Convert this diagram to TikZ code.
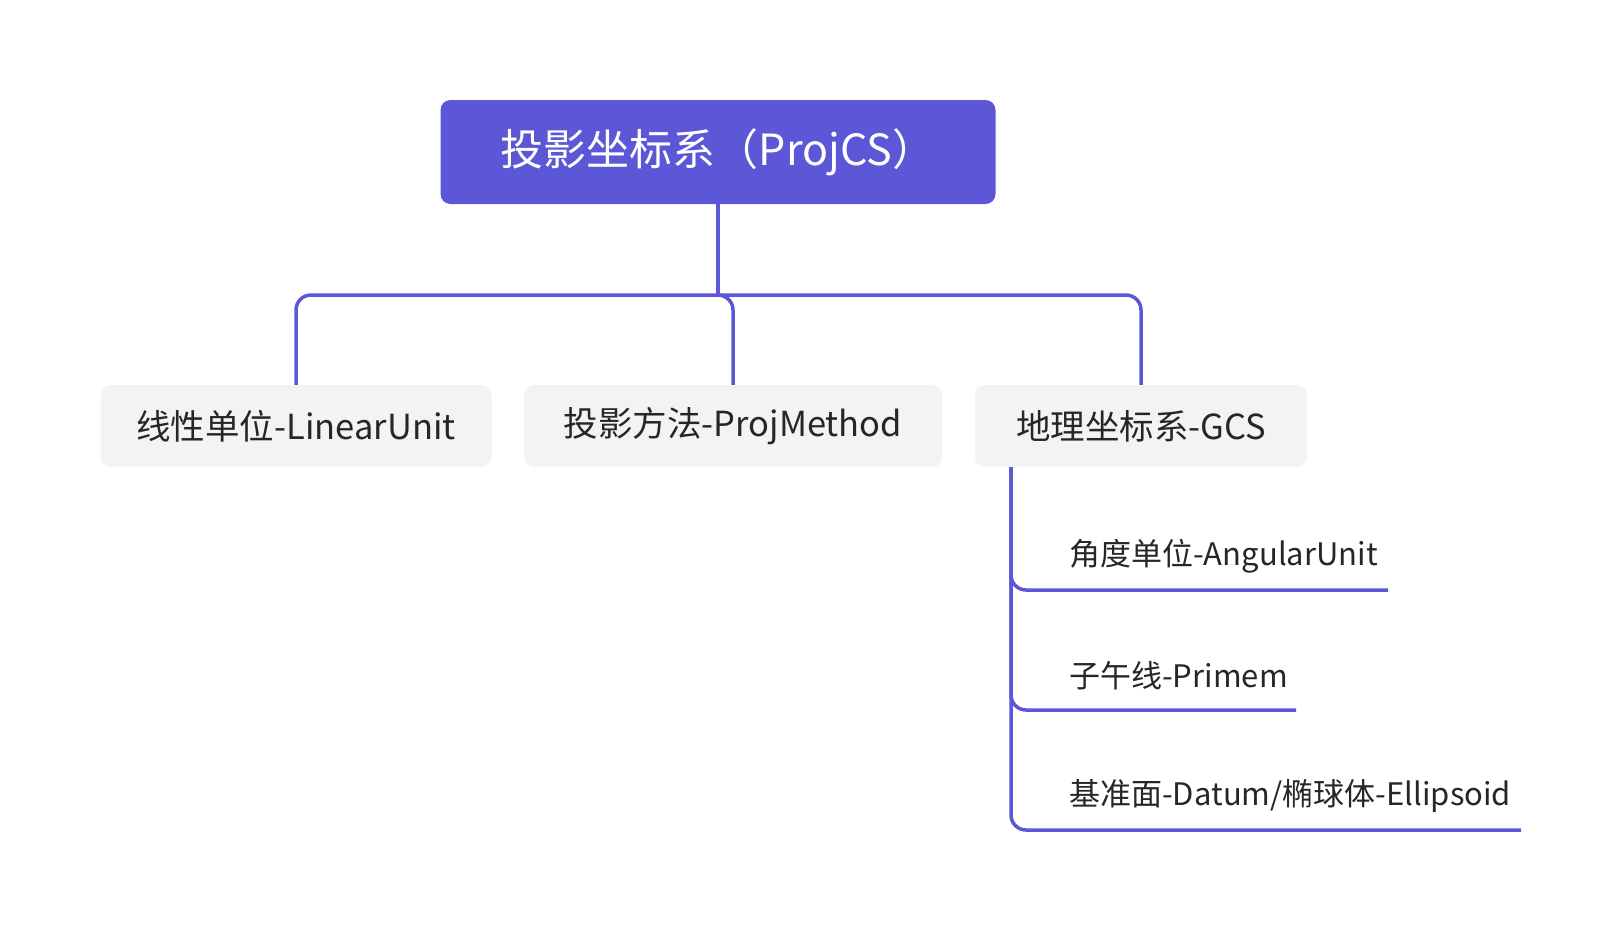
\documentclass[tikz,border=0pt]{standalone}
\usepackage{fontspec}
\setmainfont{Noto Sans CJK SC}
\definecolor{mainblue}{RGB}{91,87,214}
\definecolor{boxgray}{RGB}{243,243,243}
\definecolor{txt}{RGB}{38,38,38}
\begin{document}
\begin{tikzpicture}[x=1pt,y=-1pt,
  rootbox/.style={fill=mainblue, rounded corners=10pt, minimum width=555pt, minimum height=104pt, text=white, font=\fontsize{43}{50}\selectfont, inner sep=0pt},
  childbox/.style={fill=boxgray, rounded corners=10pt, minimum height=82pt, text=txt, font=\fontsize{34.5}{40}\selectfont, inner sep=0pt},
  subtext/.style={text=txt, font=\fontsize{31}{38}\selectfont, inner sep=0pt, anchor=west},
  conn/.style={draw=mainblue, line width=3.5pt, rounded corners=15pt}
]
\useasboundingbox (0,0) rectangle (1621,932);
\node[rootbox] (root) at (718,152) {投影坐标系（ProjCS）};
\node[childbox, minimum width=391pt] (c1) at (296,426) {线性单位-LinearUnit};
\node[childbox, minimum width=418pt] (c2) at (733,426) {投影方法-ProjMethod};
\node[childbox, minimum width=332pt] (c3) at (1141,426) {地理坐标系-GCS};

\coordinate (bus) at (718,295);
\draw[conn] (root.south) -- (bus);
\draw[conn] (bus) -| (c1.north);
\draw[conn] (bus) -| (c2.north);
\draw[conn] (bus) -| (c3.north);

\node[subtext] (s1) at (1069,556) {角度单位-AngularUnit};
\node[subtext] (s2) at (1069,676) {子午线-Primem};
\node[subtext] (s3) at (1069,796) {基准面-Datum/椭球体-Ellipsoid};

\coordinate (gstart) at (1011,467);
\coordinate (e1) at (1388,590);
\coordinate (e2) at (1296,710);
\coordinate (e3) at (1521,830);
\draw[conn] (gstart) |- (e1);
\draw[conn] (gstart) |- (e2);
\draw[conn] (gstart) |- (e3);
\end{tikzpicture}
\end{document}
